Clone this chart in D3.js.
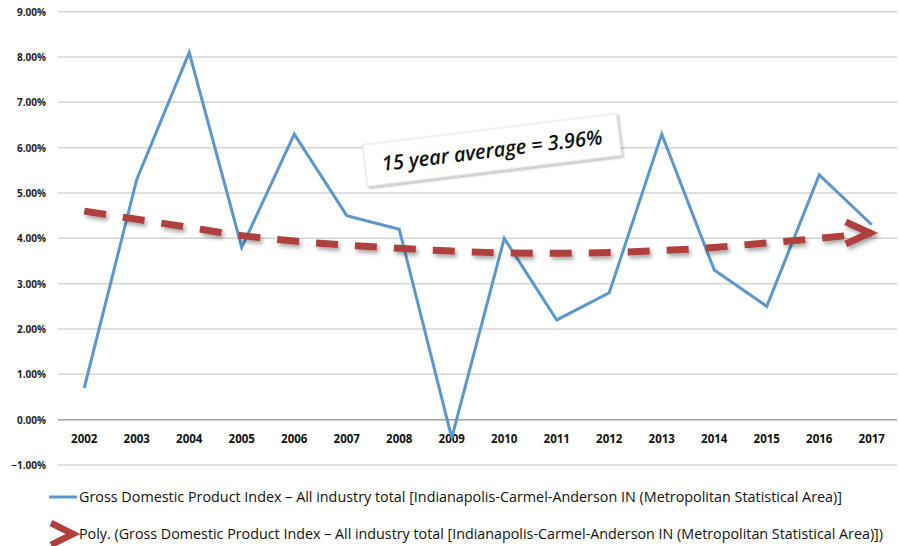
<!DOCTYPE html>
<html><head><meta charset="utf-8">
<script src="https://cdn.jsdelivr.net/npm/d3@7"></script>
<style>body{margin:0;background:#fff}svg{display:block}</style>
</head><body><svg id="c" width="899" height="546"></svg>
<script>
const years = ["2002","2003","2004","2005","2006","2007","2008","2009","2010","2011","2012","2013","2014","2015","2016","2017"];
const gdp = [0.7,5.3,8.1,3.8,6.3,4.5,4.2,-0.4,4.0,2.2,2.8,6.3,3.3,2.5,5.4,4.3];
const poly = [4.6,4.42,4.24,4.06,3.94,3.85,3.78,3.72,3.68,3.67,3.69,3.73,3.8,3.9,4.0,4.12];
const yTicks = [-1,0,1,2,3,4,5,6,7,8,9];
const legendLabels = ["Gross Domestic Product Index \u2013 All industry total [Indianapolis-Carmel-Anderson IN (Metropolitan Statistical Area)]",
 "Poly. (Gross Domestic Product Index \u2013 All industry total [Indianapolis-Carmel-Anderson IN (Metropolitan Statistical Area)])"];
const calloutText = "15 year average = 3.96%";

const svg = d3.select("#c");
const defs = svg.append("defs");
const f = defs.append("filter").attr("id","sh").attr("x","-20%").attr("y","-50%").attr("width","140%").attr("height","200%");
f.append("feDropShadow").attr("dx",2).attr("dy",3).attr("stdDeviation",2).attr("flood-color","#000").attr("flood-opacity",0.35);
const f2 = defs.append("filter").attr("id","sh2").attr("x","-10%").attr("y","-50%").attr("width","120%").attr("height","200%");
f2.append("feDropShadow").attr("dx",1.5).attr("dy",2).attr("stdDeviation",1.2).attr("flood-color","#000").attr("flood-opacity",0.3);

const x = d3.scalePoint().domain(years).range([58,898]).padding(0.5);
const y = d3.scaleLinear().domain([-1,9]).range([465,11.7]);

// grid
svg.append("g").selectAll("line").data(yTicks).join("line")
  .attr("x1",58).attr("x2",897).attr("y1",d=>y(d)).attr("y2",d=>y(d))
  .attr("stroke",d=>d===0?"#a0a0a0":"#d4d4d4").attr("stroke-width",1.5);

// y labels
svg.append("g").selectAll("text").data(yTicks).join("text")
  .attr("x",46).attr("y",d=>y(d)+4).attr("text-anchor","end")
  .attr("font-family","'Open Sans',sans-serif").attr("font-weight","bold").attr("font-size",10)
  .attr("fill","#222").text(d=>d3.format(".2f")(d)+"%");

// x labels
svg.append("g").selectAll("text").data(years).join("text")
  .attr("x",d=>x(d)).attr("y",443).attr("text-anchor","middle")
  .attr("font-family","'Open Sans',sans-serif").attr("font-weight","bold").attr("font-size",11.5)
  .attr("fill","#111").text(d=>d);

// gdp line
svg.append("path").datum(gdp)
  .attr("d",d3.line().x((d,i)=>x(years[i])).y(d=>y(d)))
  .attr("fill","none").attr("stroke","#5b96cd").attr("stroke-width",3).attr("stroke-linejoin","miter");

// poly trend line
const red = "#b0413c";
const lastX = x(years[years.length-1]), lastY = y(poly[poly.length-1]);
const trend = svg.append("g").attr("filter","url(#sh)");
trend.append("path").datum(poly)
  .attr("d",d3.line().x((d,i)=>x(years[i])).y(d=>y(d)).curve(d3.curveMonotoneX))
  .attr("fill","none").attr("stroke",red).attr("stroke-width",7)
  .attr("stroke-dasharray","22 17");
trend.append("path")
  .attr("d",`M${lastX-26},${lastY-11}L${lastX-2},${lastY}L${lastX-26},${lastY+11}`)
  .attr("fill","none").attr("stroke",red).attr("stroke-width",7).attr("stroke-linejoin","miter");

// callout
const cg = svg.append("g").attr("transform","translate(492,150) rotate(-7)");
cg.append("rect").attr("x",-128).attr("y",-21).attr("width",256).attr("height",42)
  .attr("fill","#fff").attr("stroke","#d8d8d8").attr("stroke-width",0.8).attr("filter","url(#sh2)");
cg.append("text").attr("x",0).attr("y",7.5).attr("text-anchor","middle")
  .attr("font-family","'Open Sans',sans-serif").attr("font-style","italic").attr("font-weight",600)
  .attr("font-size",20.5).attr("fill","#111").attr("textLength",222).attr("lengthAdjust","spacingAndGlyphs").text(calloutText);

// legend
svg.append("line").attr("x1",49).attr("x2",77).attr("y1",497).attr("y2",497)
  .attr("stroke","#5b96cd").attr("stroke-width",3);
svg.append("path").attr("d","M51,523 L73,534 L51,545")
  .attr("fill","none").attr("stroke",red).attr("stroke-width",6.5).attr("stroke-linejoin","miter");
svg.append("text").attr("x",79).attr("y",502).attr("font-family","'Open Sans',sans-serif")
  .attr("font-size",14).attr("fill","#111").attr("textLength",763).attr("lengthAdjust","spacingAndGlyphs").text(legendLabels[0]);
svg.append("text").attr("x",79).attr("y",539).attr("font-family","'Open Sans',sans-serif")
  .attr("font-size",14).attr("fill","#111").attr("textLength",804).attr("lengthAdjust","spacingAndGlyphs").text(legendLabels[1]);
</script></body></html>
